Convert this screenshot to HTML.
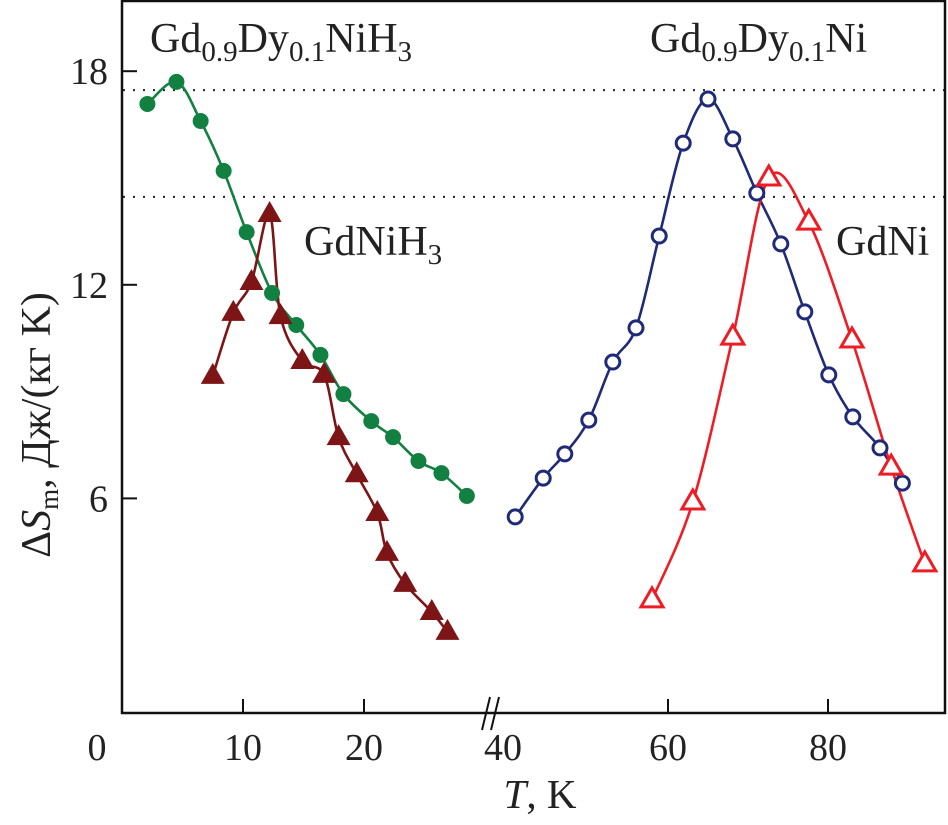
<!DOCTYPE html>
<html><head><meta charset="utf-8"><style>
html,body{margin:0;padding:0;background:#fff;}
svg{display:block;font-family:"Liberation Serif",serif;}
</style></head><body>
<svg id="chart" width="948" height="825" viewBox="0 0 948 825">
<g id="grid"></g><g id="lines"></g><g id="marks"></g><g id="axes"></g>
<text x="540" y="808" text-anchor="middle" font-size="41" fill="#222"><tspan font-style="italic">T</tspan>, K</text>
<text transform="translate(50,425) rotate(-90)" text-anchor="middle" font-size="42" fill="#222">Δ<tspan font-style="italic">S</tspan><tspan font-size="27" dy="8">m</tspan><tspan dy="-8">, Дж/(кг K)</tspan></text>
<text x="150" y="52" font-size="42" fill="#222">Gd<tspan font-size="29" dy="9">0.9</tspan><tspan dy="-9">Dy</tspan><tspan font-size="29" dy="9">0.1</tspan><tspan dy="-9">NiH</tspan><tspan font-size="29" dy="9">3</tspan></text>
<text x="650" y="52" font-size="42" fill="#222">Gd<tspan font-size="29" dy="9">0.9</tspan><tspan dy="-9">Dy</tspan><tspan font-size="29" dy="9">0.1</tspan><tspan dy="-9">Ni</tspan></text>
<text x="304" y="255" font-size="42" fill="#222">GdNiH<tspan font-size="29" dy="9">3</tspan></text>
<text x="836" y="255" font-size="42" fill="#222">GdNi</text>
</svg>
<script>
const yTicks=[6,12,18];
const xTicksLeft=[10,20];
const xTicksRight=[40,60,80];
const dottedLevels=[17.47,14.47];
const gdDyH_T=[2.1,4.5,6.5,8.4,10.3,12.4,14.4,16.4,18.3,20.6,22.4,24.5,26.4,28.5];
const gdDyH_S=[17.08,17.70,16.60,15.20,13.48,11.77,10.87,10.03,8.93,8.17,7.72,7.05,6.71,6.07];
const gdH_T=[7.5,9.2,10.7,12.2,13.1,14.9,16.7,17.9,19.4,21.1,21.9,23.4,25.6,26.9];
const gdH_S=[9.44,11.21,12.08,13.99,11.12,9.86,9.47,7.72,6.68,5.59,4.47,3.60,2.81,2.25];
const gdDy_T=[40.9,44.4,47.1,50.1,53.1,56,58.9,61.9,65,68.1,71.1,74.1,77.1,80.1,83.1,86.5,89.3];
const gdDy_S=[5.48,6.57,7.25,8.20,9.83,10.79,13.37,15.98,17.22,16.10,14.58,13.15,11.24,9.47,8.29,7.42,6.43];
const gd_T=[58,63.1,68.1,72.6,77.6,83,87.9,92.1];
const gd_S=[3.15,5.90,10.53,15.0,13.76,10.45,6.88,4.16];

const NS="http://www.w3.org/2000/svg";
function X(t){return t<35?122+t*12.1:508+(t-40)*8;}
function Y(v){return 712-v*35.6;}
function mk(tag,attrs,parent,text){const e=document.createElementNS(NS,tag);for(const k in attrs)e.setAttribute(k,attrs[k]);if(text!==undefined)e.textContent=text;document.getElementById(parent).appendChild(e);return e;}
function spline(xs,ys){const p=xs.map((t,i)=>[X(t),Y(ys[i])]);let d="M"+p[0][0]+","+p[0][1];
for(let i=0;i<p.length-1;i++){const p0=p[Math.max(i-1,0)],p1=p[i],p2=p[i+1],p3=p[Math.min(i+2,p.length-1)];
d+=" C"+(p1[0]+(p2[0]-p0[0])/6)+","+(p1[1]+(p2[1]-p0[1])/6)+" "+(p2[0]-(p3[0]-p1[0])/6)+","+(p2[1]-(p3[1]-p1[1])/6)+" "+p2[0]+","+p2[1];}return d;}

dottedLevels.forEach((v,i)=>{const l=mk('line',{x1:123,x2:945,y1:Y(v),y2:Y(v),stroke:'#222','stroke-width':2,'stroke-dasharray':'2,8'},'grid');

});

const series=[
 {T:gdDyH_T,S:gdDyH_S,c:'#128040',m:'dot',n:'gd-dy-nih3'},
 {T:gdH_T,S:gdH_S,c:'#7d1416',m:'tri',n:'gd-nih3'},
 {T:gdDy_T,S:gdDy_S,c:'#1f2a78',m:'ring',n:'gd-dy-ni'},
 {T:gd_T,S:gd_S,c:'#ee1c25',m:'otri',n:'gd-ni'}];
series.forEach(s=>{
 const pth=mk('path',{d:spline(s.T,s.S),fill:'none',stroke:s.c,'stroke-width':2.6},'lines');
 
 
 s.T.forEach((t,i)=>{const x=X(t),y=Y(s.S[i]);let e;
  if(s.m==='dot')e=mk('circle',{cx:x,cy:y,r:8,fill:s.c},'marks');
  else if(s.m==='ring')e=mk('circle',{cx:x,cy:y,r:7,fill:'#fff',stroke:s.c,'stroke-width':3},'marks');
  else if(s.m==='tri')e=mk('polygon',{points:`${x},${y-13} ${x-12},${y+8} ${x+12},${y+8}`,fill:s.c},'marks');
  else e=mk('polygon',{points:`${x},${y-12} ${x-11},${y+7} ${x+11},${y+7}`,fill:'#fff',stroke:s.c,'stroke-width':3},'marks');
  
  });
});

const frame=mk('path',{d:'M122,1 H945 V713 H122 Z',fill:'none',stroke:'#111','stroke-width':2.5},'axes');


yTicks.forEach(v=>{const t=mk('line',{x1:122,x2:137,y1:Y(v),y2:Y(v),stroke:'#111','stroke-width':2},'axes');
 
 
 const l=mk('text',{x:108,y:Y(v)+13,'text-anchor':'end','font-size':38,fill:'#222'},'axes',String(v));
 
 });
xTicksLeft.concat(xTicksRight).forEach(v=>{const x=X(v);
 if(v!==40){const t=mk('line',{x1:x,x2:x,y1:713,y2:699,stroke:'#111','stroke-width':2},'axes');
 
 }
 const l=mk('text',{x:v===40?503:x,y:760,'text-anchor':'middle','font-size':38,fill:'#222'},'axes',String(v));
 
 });
const z=mk('text',{x:97,y:760,'text-anchor':'middle','font-size':38,fill:'#222'},'axes','0');


const br=mk('path',{d:'M482,730 L490,697 M491,730 L499,697',stroke:'#111','stroke-width':2,fill:'none'},'axes');


</script>
</body></html>
